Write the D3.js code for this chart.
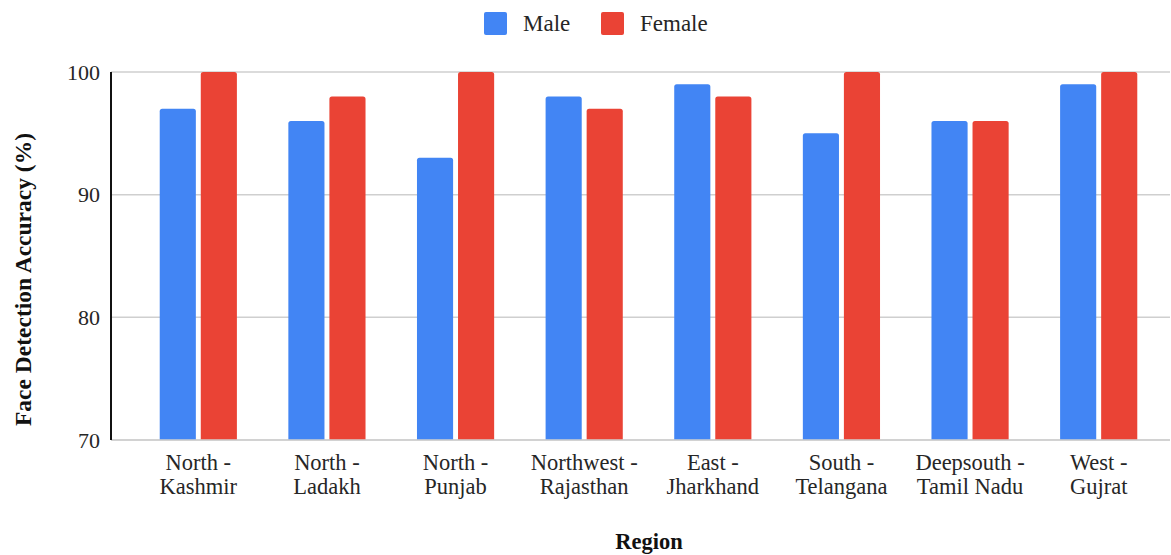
<!DOCTYPE html>
<html>
<head>
<meta charset="utf-8">
<script src="https://cdn.jsdelivr.net/npm/d3@7"></script>
<style>
  html, body { margin: 0; padding: 0; background: #fff; }
  svg { display: block; }
</style>
</head>
<body>
<svg id="chart" width="1171" height="555" style="font-family:'Liberation Serif'"></svg>
<script>
// Face detection accuracy by region and gender
const regions = [
  ["North -", "Kashmir"],
  ["North -", "Ladakh"],
  ["North -", "Punjab"],
  ["Northwest -", "Rajasthan"],
  ["East -", "Jharkhand"],
  ["South -", "Telangana"],
  ["Deepsouth -", "Tamil Nadu"],
  ["West -", "Gujrat"]
];
const seriesNames = ["Male", "Female"];
const maleValues = [97, 96, 93, 98, 99, 95, 96, 99];
const femaleValues = [100, 98, 100, 97, 98, 100, 96, 100];
const yTicks = [70, 80, 90, 100];
const colors = ["#4285F4", "#EA4335"];

const FONT = "'Liberation Serif'";
const TEXT_COLOR = "#262626";

const svg = d3.select("#chart");
const plot = { left: 111, right: 1170, top: 72, bottom: 440 };

const keys = regions.map(r => r.join(" "));
const x = d3.scaleBand().domain(keys).range([134, 1163]).paddingInner(0.4).paddingOuter(0.2);
const x1 = d3.scaleBand().domain(seriesNames).range([0, x.bandwidth()]).paddingInner(0.12);
const y = d3.scaleLinear().domain([70, 100]).range([plot.bottom, plot.top]);

// horizontal gridlines
svg.append("g").selectAll("line").data(yTicks).join("line")
  .attr("x1", plot.left).attr("x2", plot.right)
  .attr("y1", d => y(d)).attr("y2", d => y(d))
  .attr("stroke", "#cfcfcf").attr("stroke-width", 1.5);

// y tick labels
const yAxis = svg.append("g").attr("transform", `translate(${plot.left},0)`)
  .call(d3.axisLeft(y).tickValues(yTicks).tickSize(0).tickPadding(11));
yAxis.attr("font-family", null).attr("font-size", null);
yAxis.select(".domain").remove();
yAxis.selectAll("text").style("font-family", FONT).style("font-size", "22px").attr("fill", TEXT_COLOR);

// bars with slightly rounded tops
const barPath = (x0, w, yTop, yBase, r) =>
  `M${x0},${yBase}V${yTop + r}Q${x0},${yTop} ${x0 + r},${yTop}H${x0 + w - r}Q${x0 + w},${yTop} ${x0 + w},${yTop + r}V${yBase}Z`;

const rows = keys.map((k, i) => ({ key: k, vals: [maleValues[i], femaleValues[i]] }));
const groups = svg.append("g").selectAll("g").data(rows).join("g")
  .attr("transform", d => `translate(${x(d.key)},0)`);
groups.selectAll("path").data(d => d.vals.map((v, j) => ({ name: seriesNames[j], v, j })))
  .join("path")
  .attr("d", d => barPath(x1(d.name), x1.bandwidth(), y(d.v), y(70), 2.5))
  .attr("fill", d => colors[d.j]);

// baseline and left axis line
svg.append("line").attr("x1", plot.left).attr("x2", plot.right)
  .attr("y1", plot.bottom).attr("y2", plot.bottom)
  .attr("stroke", "#cfcfcf").attr("stroke-width", 1.5);
svg.append("line").attr("x1", plot.left).attr("x2", plot.left)
  .attr("y1", plot.top).attr("y2", plot.bottom)
  .attr("stroke", "#111").attr("stroke-width", 2);

// category labels (two lines)
const xAxis = svg.append("g").attr("transform", `translate(0,${plot.bottom})`)
  .call(d3.axisBottom(x).tickSize(0).tickFormat(() => ""));
xAxis.attr("font-family", null).attr("font-size", null);
xAxis.select(".domain").remove();
xAxis.selectAll(".tick text").remove();
xAxis.selectAll(".tick").each(function(d, i) {
  const t = d3.select(this).append("text")
    .attr("text-anchor", "middle")
    .style("font-family", FONT).style("font-size", "22.5px").attr("fill", TEXT_COLOR);
  regions[i].forEach((line, j) => {
    t.append("tspan").attr("x", 0).attr("y", 30 + j * 23.5).text(line);
  });
});

// axis titles
svg.append("text").attr("x", 649).attr("y", 549)
  .attr("text-anchor", "middle")
  .style("font-family", FONT).style("font-size", "22.5px").style("font-weight", "bold")
  .attr("fill", "#111")
  .text("Region");
svg.append("text")
  .attr("transform", "translate(31,279.5) rotate(-90)")
  .attr("text-anchor", "middle")
  .style("font-family", FONT).style("font-size", "23.5px").style("font-weight", "bold")
  .attr("fill", "#111")
  .text("Face Detection Accuracy (%)");

// legend
const legend = svg.append("g").selectAll("g").data(seriesNames).join("g")
  .attr("transform", (d, i) => `translate(${[484, 601][i]},12)`);
legend.append("rect").attr("width", 23).attr("height", 23).attr("rx", 2)
  .attr("fill", (d, i) => colors[i]);
legend.append("text").attr("x", 39).attr("y", 19)
  .style("font-family", FONT).style("font-size", "23px").attr("fill", TEXT_COLOR)
  .text(d => d);
</script>
</body>
</html>
